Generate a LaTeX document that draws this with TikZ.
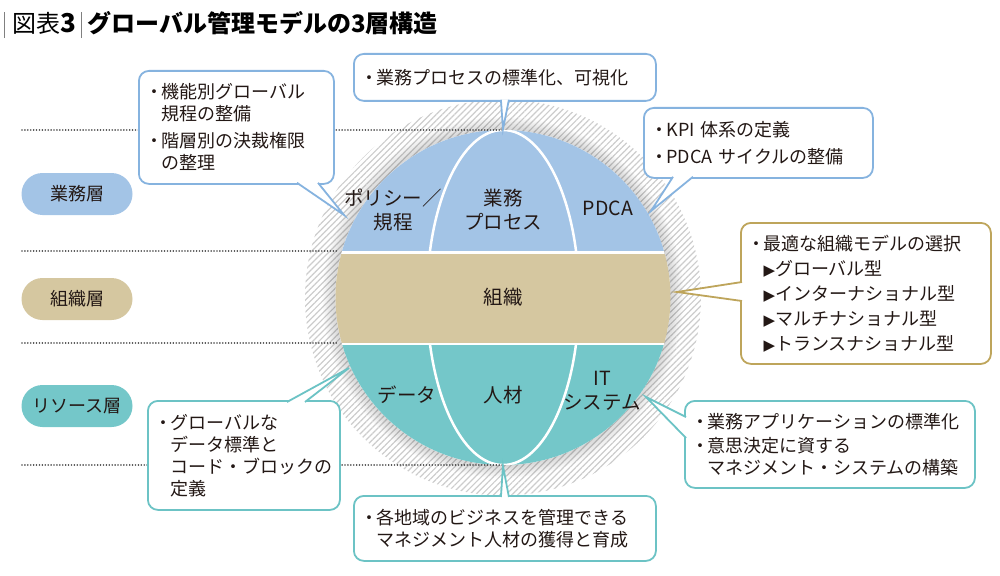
\documentclass[tikz,border=0pt]{standalone}
\usepackage{fontspec}
\setmainfont{Noto Sans CJK JP}
\newfontfamily\symfont{DejaVu Sans}
\usepackage{xcolor}
\usepackage{tikz}
\usetikzlibrary{calc,patterns.meta}
\usetikzlibrary{positioning}

\definecolor{gmBlue}{HTML}{A3C4E6}
\definecolor{gmBlueLine}{HTML}{86B3DF}
\definecolor{gmBeige}{HTML}{D5C7A0}
\definecolor{gmGoldLine}{HTML}{BEA55B}
\definecolor{gmTeal}{HTML}{74C7C9}
\definecolor{gmTealLine}{HTML}{6CC3C5}
\definecolor{gmText}{HTML}{231815}

\tikzstyle{callbox}=[
  draw,fill=white,line width=1.8pt,rounded corners=10pt,anchor=north west,
  align=left,inner xsep=10pt,inner ysep=0pt,text=gmText,
  font=\fontsize{18}{22}\selectfont
]
\tikzstyle{ptr}=[
  fill=white,line width=1.8pt,line join=miter
]
\tikzstyle{layer}=[
  rounded corners=21pt,minimum width=111pt,minimum height=42pt,
  text=gmText,font=\fontsize{18}{22}\selectfont
]
\tikzstyle{seg}=[
  align=center,text=gmText,font=\fontsize{19.5}{24}\selectfont
]
\tikzstyle{guide}=[
  black!70,line width=1.7pt,dash pattern=on 0.01pt off 2.9pt,line cap=round
]

\newcommand{\bul}{\makebox[0.6em][c]{・}\hspace{0.1em}}
\newcommand{\ind}{\hspace*{0.7em}}
\newcommand{\tri}{{\symfont\fontsize{15}{15}\selectfont ▶}}

\begin{document}
\begin{tikzpicture}[x=1pt,y=-1pt]
    \useasboundingbox (0,0) rectangle (1000,575);

    %Title
    \node[anchor=west,font=\fontsize{24}{28}\selectfont,inner sep=0pt] (title) at (4,25)
      {\textcolor{gray}{\rule[-0.22em]{0.7pt}{1.1em}}\hspace{0.3em}図表{\bfseries\fontsize{26}{28}\selectfont 3}\hspace{0.2em}\textcolor{gray}{\rule[-0.22em]{0.7pt}{1.1em}}\hspace{0.25em}{\bfseries グローバル管理モデルの3層構造}};

    %Globe
    \coordinate (c) at (503,297.5);
    \fill[pattern={Lines[angle=45,distance=4.3pt,line width=1.2pt]},pattern color=gray!40] (c) circle (198);
    \foreach \r in {1,...,8}
      \fill[black,opacity=0.018] (c) circle (167.5+1.6*\r);
    \begin{scope}
      \clip (c) circle (167.5);
      \fill[white] (c) circle (167.5);
      \fill[gmBlue] (330,120) rectangle (680,251);
      \fill[gmTeal] (330,345) rectangle (680,470);
      \draw[white,line width=2.5pt] (c) ellipse (76 and 167.5);
      \fill[gmBeige] (330,253.5) rectangle (680,342.5);
    \end{scope}

    %Segment labels
    \node[seg] (policy) at (393,210) {ポリシー／\\規程};
    \node[seg] (process) at (503,210) {業務\\プロセス};
    \node[seg] (pdca) at (608,208) {PDCA};
    \node[seg] (orgn) at (503,297) {組織};
    \node[seg] (dataSeg) at (407,395) {データ};
    \node[seg] (people) at (503,395) {人材};
    \node[seg] (itSys) at (602,391) {IT\\システム};

    %Layers
    \node[layer,fill=gmBlue] (bizLayer) at (77,194) {業務層};
    \node[layer,fill=gmBeige] (orgLayer) at (77,299) {組織層};
    \node[layer,fill=gmTeal] (resLayer) at (77,406) {リソース層};

    %Guide lines
    \draw[guide] (22,130) -- (503,130);
    \draw[guide] (22,251) -- (338,251);
    \draw[guide] (22,343) -- (338,343);
    \draw[guide] (22,465) -- (503,465);

    %Tips
    \coordinate (polTip) at (344,215);
    \coordinate (procTip) at (503,129);
    \coordinate (kpiTip) at (651,211);
    \coordinate (orgTip) at (677,292);
    \coordinate (dataTip) at (349,368);
    \coordinate (hrTip) at (503,466);
    \coordinate (itTip) at (646,397);

    %Callouts
    \node[callbox,draw=gmBlueLine,text width=175pt,minimum height=113pt] (pol) at (138,70)
      {\bul 機能別グローバル\\\ind 規程の整備\\[5pt]\bul 階層別の決裁権限\\\ind の整理};
    \filldraw[ptr,draw=gmBlueLine] ($(pol.south west)+(159,-2)$) -- (polTip) -- ($(pol.south west)+(180,-2)$);

    \node[callbox,draw=gmBlueLine,text width=282pt,minimum height=47pt] (proc) at (353,53)
      {\bul 業務プロセスの標準化、可視化};
    \filldraw[ptr,draw=gmBlueLine] ($(proc.south)+(-4,-2)$) -- (procTip) -- ($(proc.south)+(4,-2)$);

    \node[callbox,draw=gmBlueLine,text width=209pt,minimum height=70pt] (kpi) at (643,107)
      {\bul KPI 体系の定義\\[5pt]\bul PDCA サイクルの整備};
    \filldraw[ptr,draw=gmBlueLine] ($(kpi.south west)+(30,-2)$) -- (kpiTip) -- ($(kpi.south west)+(50,-2)$);

    \node[callbox,draw=gmGoldLine,text width=230pt,minimum height=141pt,font=\fontsize{18}{25}\selectfont] (org) at (740,222)
      {\bul 最適な組織モデルの選択\\\ind\tri グローバル型\\\ind\tri インターナショナル型\\\ind\tri マルチナショナル型\\\ind\tri トランスナショナル型};
    \filldraw[ptr,draw=gmGoldLine] ($(org.north west)+(2,60)$) -- (orgTip) -- ($(org.north west)+(2,79)$);

    \node[callbox,draw=gmTealLine,text width=172pt,minimum height=109pt] (data) at (147,400)
      {\bul グローバルな\\\ind データ標準と\\\ind コード・ブロックの\\\ind 定義};
    \filldraw[ptr,draw=gmTealLine] ($(data.north west)+(140,2)$) -- (dataTip) -- ($(data.north west)+(158,2)$);

    \node[callbox,draw=gmTealLine,text width=282pt,minimum height=65pt] (hr) at (353,495)
      {\bul 各地域のビジネスを管理できる\\\ind マネジメント人材の獲得と育成};
    \filldraw[ptr,draw=gmTealLine] ($(hr.north)+(-4,2)$) -- (hrTip) -- ($(hr.north)+(4,2)$);

    \node[callbox,draw=gmTealLine,text width=270pt,minimum height=87pt] (it) at (684,400)
      {\bul 業務アプリケーションの標準化\\[2pt]\bul 意思決定に資する\\\ind マネジメント・システムの構築};
    \filldraw[ptr,draw=gmTealLine] ($(it.north west)+(2,17)$) -- (itTip) -- ($(it.north west)+(2,38)$);
\end{tikzpicture}
\end{document}
